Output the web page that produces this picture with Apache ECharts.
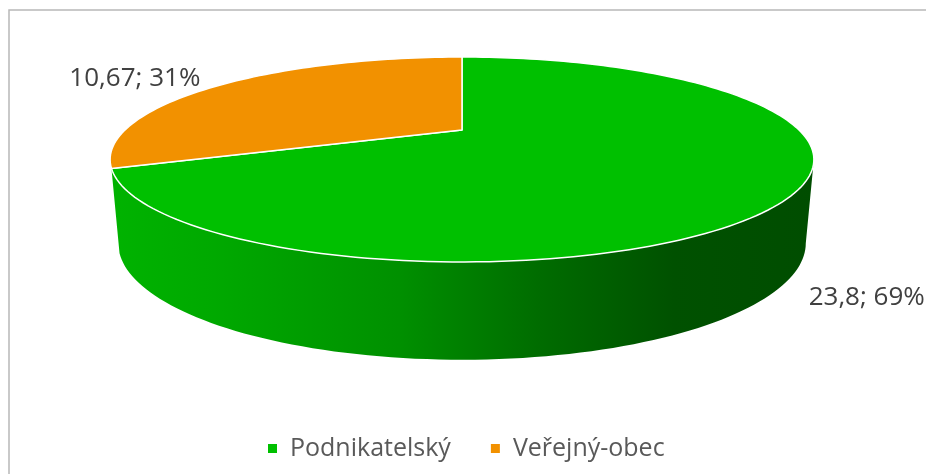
<!DOCTYPE html>
<html>
<head>
    <meta charset="utf-8" />
    <script src="https://cdn.jsdelivr.net/npm/echarts@6/dist/echarts.min.js"></script>
    <style>
        html, body { margin: 0; padding: 0; background: #fff; }
        #chart { width: 926px; height: 474px; }
    </style>
</head>
<body>
    <div id="chart"></div>
<script type="text/javascript">
// data
var categories = ['Podnikatelský', 'Veřejný-obec'];
var values = [23.8, 10.67];
var colors = ['#00C000', '#F29100'];

var total = values.reduce(function (a, b) { return a + b; }, 0);

// 3D pie look (perspective ellipse), layout only
var geo = {
    cx: 462,       // projected centre x
    cy: 130,       // projected centre y
    rad: 337,      // horizontal radius
    vert: 94,      // vertical radius factor
    k: 0.2877,     // perspective strength
    shrink: 0.977, // bottom face x shrink
    dropA: 35,
    dropB: 44.7
};
var DEG = Math.PI / 180;

function proj(t) {
    var d = 1 + geo.k * Math.sin(t * DEG);
    return {
        x: geo.cx + geo.rad * Math.cos(t * DEG) / d,
        y: geo.cy - geo.vert * Math.sin(t * DEG) / d,
        d: d
    };
}
function projBottom(t) {
    var p = proj(t);
    return {
        x: geo.cx + (p.x - geo.cx) * geo.shrink,
        y: p.y + geo.dropA + geo.dropB / p.d
    };
}

function shade(hex, f) {
    var r = parseInt(hex.substr(1, 2), 16), g = parseInt(hex.substr(3, 2), 16), b = parseInt(hex.substr(5, 2), 16);
    return 'rgb(' + Math.round(r * f) + ',' + Math.round(g * f) + ',' + Math.round(b * f) + ')';
}

// start/end angle of each slice, clockwise from 12 o'clock
function sliceAngles(i) {
    var start = 90;
    for (var j = 0; j < i; j++) start -= 360 * values[j] / total;
    return [start - 360 * values[i] / total, start]; // [lo, hi]
}

function arcPoints(lo, hi, bottom) {
    var pts = [];
    var n = Math.max(2, Math.ceil((hi - lo) / 1.5));
    for (var s = 0; s <= n; s++) {
        var t = lo + (hi - lo) * s / n;
        var p = bottom ? projBottom(t) : proj(t);
        pts.push([p.x, p.y]);
    }
    return pts;
}

function renderSlice(i) {
    return function (params, api) {
        var ang = sliceAngles(i);
        var lo = ang[0], hi = ang[1];
        var col = colors[i];
        var children = [];

        // side wall (only the front part, skip hairline slivers at the edge)
        var delta = Math.asin(geo.k) / DEG;
        [-360, 0, 360].forEach(function (shift) {
            var fLo = -180 + delta + shift, fHi = -delta + shift;
            var a = Math.max(lo, fLo), b = Math.min(hi, fHi);
            if (b - a > 6) {
                var top = arcPoints(a, b, false);
                var bot = arcPoints(a, b, true).reverse();
                children.push({
                    type: 'polygon',
                    z2: 1,
                    shape: { points: top.concat(bot) },
                    style: {
                        fill: new echarts.graphic.LinearGradient(geo.cx - geo.rad * 1.05, 0, geo.cx + geo.rad * 1.05, 0, [
                            { offset: 0, color: shade(col, 0.93) },
                            { offset: 0.15, color: shade(col, 0.88) },
                            { offset: 0.41, color: shade(col, 0.75) },
                            { offset: 0.61, color: shade(col, 0.56) },
                            { offset: 0.8, color: shade(col, 0.42) },
                            { offset: 1, color: shade(col, 0.40) }
                        ], true)
                    }
                });
            }
        });

        // top face
        var pts = [[geo.cx, geo.cy]].concat(arcPoints(lo, hi, false));
        children.push({
            type: 'polygon',
            z2: 2,
            shape: { points: pts },
            style: { fill: col, stroke: '#fff', lineWidth: 1.5, lineJoin: 'round' }
        });

        // data label
        var mid = (lo + hi) / 2;
        var s = Math.sin(mid * DEG), c = Math.cos(mid * DEG);
        var anchor = s < 0 ? projBottom(mid) : proj(mid);
        var pct = Math.round(values[i] / total * 100);
        children.push({
            type: 'text',
            z2: 3,
            x: anchor.x + (c >= 0 ? 22 : -22),
            y: anchor.y - s * 20 + 5,
            style: {
                text: String(values[i]).replace('.', ',') + '; ' + pct + '%',
                fill: '#404040',
                fontSize: 26,
                fontFamily: 'Open Sans',
                align: c >= 0 ? 'left' : 'right',
                verticalAlign: 'middle'
            }
        });

        return { type: 'group', children: children };
    };
}

var myChart = echarts.init(document.getElementById('chart'));

var series = categories.map(function (name, i) {
    return {
        type: 'custom',
        name: name,
        coordinateSystem: 'none',
        silent: true,
        itemStyle: { color: colors[i] },
        renderItem: renderSlice(i),
        data: [[values[i]]],
        z: i === 0 ? 2 : 3
    };
});

myChart.setOption({
    animation: false,
    legend: {
        data: categories,
        left: 263,
        top: 431,
        icon: 'rect',
        itemWidth: 9,
        itemHeight: 9,
        itemGap: 40,
        textStyle: {
            fontSize: 25,
            color: '#595959',
            fontFamily: 'Open Sans',
            padding: [0, 0, 0, 8]
        }
    },
    graphic: [{
        type: 'rect',
        silent: true,
        shape: { x: 9, y: 10, width: 1000, height: 1000 },
        style: { fill: 'none', stroke: '#B8B8B8', lineWidth: 1.5 }
    }],
    series: series
});
</script>
</body>
</html>
